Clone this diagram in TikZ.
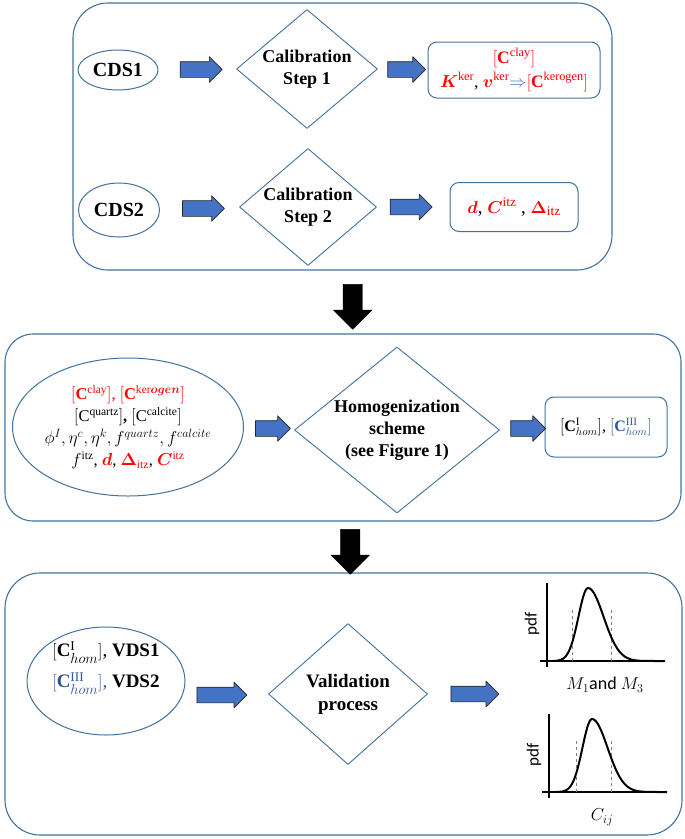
\documentclass[tikz,border=0pt]{standalone}
\usepackage{amsmath,bm}
\usepackage{fontspec}
\setmainfont{Liberation Serif}
\newfontfamily\calfont{Carlito}
\usetikzlibrary{shapes.geometric,shapes.arrows,calc}

\definecolor{lineblue}{RGB}{65,113,156}
\definecolor{fillblue}{RGB}{68,114,196}
\definecolor{darkblue}{RGB}{47,85,151}
\definecolor{myred}{RGB}{255,0,0}

\begin{document}
\begin{tikzpicture}[x=1pt,y=-1pt,line join=round,
  panel/.style={draw=lineblue,line width=1.1pt,rounded corners=#1,inner sep=0pt},
  oval/.style={ellipse,draw=lineblue,line width=1pt,inner sep=0pt,align=center},
  dia/.style={diamond,draw=lineblue,line width=.9pt,inner sep=0pt,align=center,font=\bfseries\fontsize{18}{22}\selectfont},
  res/.style={draw=lineblue,line width=1pt,rounded corners=9pt,align=center,inner sep=0pt},
  bluearr/.style={single arrow,draw=black!85,line width=.7pt,fill=fillblue,inner sep=7.5pt,single arrow head extend=5pt,minimum height=#1},
  blackarr/.style={single arrow,draw=black,fill=black,inner sep=9.5pt,single arrow head extend=9.5pt,minimum height=45pt,rotate=-90}]
\useasboundingbox (0,0) rectangle (685,839);

% the three panels
\node[panel=35pt,minimum width=539pt,minimum height=267pt] (box1) at (342.5,136.5) {};
\node[panel=28pt,minimum width=676pt,minimum height=187pt] (box2) at (343,427.5) {};
\node[panel=35pt,minimum width=677pt,minimum height=262pt] (box3) at (343.5,704) {};

\node[blackarr] (down1) at ($(box1.south)!.5!(box2.north)+(10,0)$) {};
\node[blackarr] (down2) at ($(box2.south)!.5!(box3.north)+(7,0)$) {};

% calibration
\node[oval,minimum width=80pt,minimum height=40pt,font=\bfseries\fontsize{20}{24}\selectfont] (cds1) at (118,70) {CDS1};
\node[oval,minimum width=81pt,minimum height=54pt,font=\bfseries\fontsize{20}{24}\selectfont] (cds2) at (119,210) {CDS2};
\node[dia,minimum width=141pt,minimum height=119pt,aspect=1.18] (cal1) at (307,69) {Calibration\\Step 1};
\node[dia,minimum width=137pt,minimum height=117pt,aspect=1.17] (cal2) at (308,207) {Calibration\\Step 2};
\node[res,minimum width=172pt,minimum height=56pt,font=\fontsize{17.5}{24}\selectfont] (res1) at (514,70)
  {{\color{myred}$[\mathbf{C}^{\mathrm{clay}}]$}\\
   {\color{myred}$\bm{K}^{\mathrm{ker}}$}, {\color{myred}$\bm{v}^{\mathrm{ker}}$}{\color{fillblue}$\Rightarrow$}{\color{myred}$[\mathbf{C}^{\mathrm{kerogen}}]$}};
\node[res,minimum width=128pt,minimum height=49pt,font=\fontsize{19}{22}\selectfont] (res2) at (514,207)
  {{\color{myred}$\bm{d}$}, {\color{myred}$\bm{C}^{\mathrm{itz}}$} , {\color{myred}$\bm{\Delta}_{\mathrm{itz}}$}};

\node[bluearr=42pt] (a1) at ($(cds1.east)!.5!(cal1.west)$) {};
\node[bluearr=38pt] (a2) at ($(cal1.east)!.5!(res1.west)$) {};
\node[bluearr=42pt] (a3) at ($(cds2.east)!.5!(cal2.west)$) {};
\node[bluearr=42pt] (a4) at ($(cal2.east)!.5!(res2.west)+(-6,0)$) {};

% homogenization
\node[oval,minimum width=231pt,minimum height=138pt] (inp) at (128,427) {};
\node[align=center,inner sep=0pt,font=\fontsize{16.5}{22}\selectfont] (inptxt) at (inp)
  {{\color{myred}$[\mathbf{C}^{\mathrm{clay}}]$, $[\mathbf{C}^{\mathrm{ker}\bm{ogen}}]$}\\
   $[\mathrm{C}^{\mathrm{quartz}}]$\textbf{,} $[\mathrm{C}^{\mathrm{calcite}}]$\\
   $\phi^I,\eta^c,\eta^k,f^{quartz},f^{calcite}$\\
   $f^{\mathrm{itz}}$, {\color{myred}$\bm{d}$}, {\color{myred}$\bm{\Delta}_{\mathrm{itz}}$}, {\color{myred}$\bm{C}^{\mathrm{itz}}$}};
\node[dia,minimum width=205pt,minimum height=166pt,aspect=1.23] (hom) at (397,430) {Homogenization\\scheme\\(see Figure 1)};
\node[res,minimum width=122pt,minimum height=60pt,font=\fontsize{16}{20}\selectfont] (res3) at (606,427)
  {$[\mathbf{C}^{\mathrm{I}}_{hom}]$, {\color{darkblue}$[\mathbf{C}^{\mathrm{III}}_{hom}]$}};

\node[bluearr=35pt] (a5) at ($(inp.east)!.5!(hom.west)$) {};
\node[bluearr=35pt] (a6) at ($(hom.east)!.5!(res3.west)+(2,0)$) {};

% validation
\node[oval,minimum width=158pt,minimum height=108pt] (vds) at (106,681) {};
\node[align=center,inner sep=0pt,font=\fontsize{19}{23}\selectfont] (vdstxt) at ($(vds)+(0,-13)$)
  {$[\mathbf{C}^{\mathrm{I}}_{hom}]$, \textbf{VDS1}\\[8pt]
   {\color{darkblue}$[\mathbf{C}^{\mathrm{III}}_{hom}]$,} \textbf{VDS2}};
\node[dia,minimum width=159pt,minimum height=141pt,aspect=1.13,font=\bfseries\fontsize{19}{23}\selectfont] (val) at (348,694) {Validation\\process};

\node[bluearr=50pt] (a7) at (218,695) {};
\node[bluearr=48pt] (a8) at (471,694) {};

% pdf sketches
\foreach \ox/\oy/\pk/\da/\db/\lx/\ly/\lab [count=\n] in
  {547/661/41/25/64/605/685/{$M_1$\calfont and $M_3$},
   549/792/43/27/62/602/817/{$C_{ij}$}}{
\begin{scope}[shift={(\ox,\oy)}]
\draw[line width=1.8pt] (0,-78) coordinate (top\n) -- (0,6);
\draw[line width=1.6pt] (-7,0) -- (118,0) coordinate (end\n);
\draw[gray,dashed,line width=.6pt] (\da,0) -- (\da,-53);
\draw[gray,dashed,line width=.6pt] (\db,0) -- (\db,-53);
\draw[line width=2pt,samples=80,domain=6:118] plot ({\x},{-73*exp(-((\x-\pk)/(\x<\pk?13.5:22))^2)});
\node[rotate=90,font=\calfont\fontsize{17}{20}\selectfont] (pdf\n) at (-15,-37) {pdf};
\end{scope}
\node[font=\fontsize{18}{22}\selectfont] (lab\n) at (\lx,\ly) {\lab};
}

\end{tikzpicture}
\end{document}
